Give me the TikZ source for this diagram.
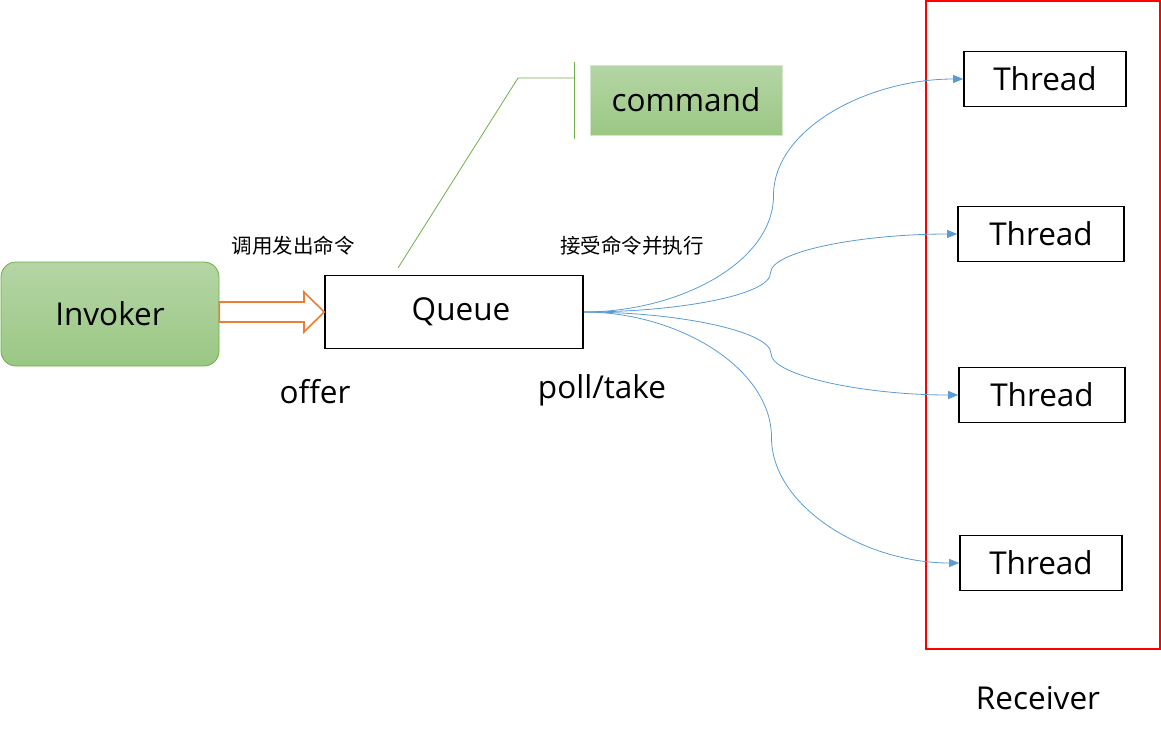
\documentclass[tikz,border=0pt]{standalone}
\usepackage{fontspec}
\setmainfont{Open Sans}
\newfontfamily\cjk{Noto Sans CJK SC}
\usetikzlibrary{arrows.meta,calc}
\definecolor{gtop}{HTML}{B5D5A5}
\definecolor{gbot}{HTML}{9BC784}
\definecolor{gline}{HTML}{70AD47}
\definecolor{conn}{HTML}{5B9BD5}
\definecolor{orng}{HTML}{ED7D31}
\begin{document}
\begin{tikzpicture}[x=1pt,y=-1pt,
  big/.style={font=\fontsize{31.5}{36}\selectfont},
  small/.style={font=\cjk\fontsize{20.5}{24}\selectfont},
  box/.style={draw=black,line width=1.6pt,minimum width=162pt,minimum height=55pt,inner sep=0pt,big},
  link/.style={draw=conn,line width=0.8pt,-{Triangle[length=10pt,width=8pt]}}]
\useasboundingbox (0,0) rectangle (1161,744);
% Invoker
\node[draw=gline,line width=0.8pt,rounded corners=15pt,top color=gtop,bottom color=gbot,
  minimum width=218pt,minimum height=104pt,inner sep=0pt,big] (inv) at (110,314) {Invoker};
% Queue
\node[box,minimum width=258pt,minimum height=73pt] (q) at (454,312) {\hspace{14pt}\raisebox{-4pt}{Queue}};
% block arrow
\draw[orng,line width=1.6pt,fill=white,line join=miter]
  (inv.east |- 0,302) -- (304,302) -- (304,292) -- (q.west) -- (304,332) -- (304,322) -- (inv.east |- 0,322) -- cycle;
% labels
\node[small] (l1) at (293,246) {调用发出命令};
\node[small] (l2) at (632,246) {接受命令并执行};
\node[big] (off) at (315,392) {offer};
\node[big] (pt) at (602,390) {poll/take};
% command callout
\node[top color=gtop,bottom color=gbot,draw=gtop!60,line width=0.5pt,minimum width=192pt,minimum height=70pt,inner sep=0pt,big] (cmd) at (686,100) {command};
\coordinate (cl) at (398,268);
\draw[gline,line width=0.8pt] (cl) -- (518,78) -- (574,78);
\draw[gline,line width=0.8pt] (574,62) -- (574,139);
% receiver
\draw[red,line width=1.6pt] (926,1) rectangle (1160,649);
\node[big] (rec) at (1038,698) {Receiver};
% threads
\node[box] (t1) at (1045,79) {Thread};
\node[box,minimum width=166pt] (t2) at (1041,234) {Thread};
\node[box,minimum width=166pt] (t3) at (1042,395) {Thread};
\node[box] (t4) at (1041,563) {Thread};
% connectors
\foreach \t/\h in {t1/67,t2/22,t3/-22,t4/-69}{
  \coordinate (m\t) at ($(q.east)!0.5!(\t.west)$);
  \path[link] (q.east) .. controls +(95,0) and +(0,\h) .. (m\t)
     .. controls +(0,-\h) and +(-95,0) .. (\t.west);
}
\end{tikzpicture}
\end{document}
